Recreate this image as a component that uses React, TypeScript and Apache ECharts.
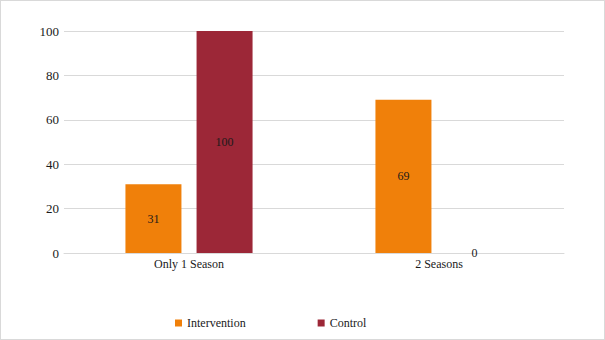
import React, { useEffect, useRef } from "react";
import * as echarts from "echarts";

const categories = ["Only 1 Season", "2 Seasons"];
const intervention = [31, 69];
const control = [100, 0];
const seriesNames = ["Intervention", "Control"];
const colors = ["#f0800a", "#9c2737"];

const FONT = "Liberation Serif";

export default function App() {
  const ref = useRef<HTMLDivElement>(null);
  useEffect(() => {
    document.body.style.margin = "0";
    const chart = echarts.init(ref.current!, null, { renderer: "svg" });
    const label = {
      show: true,
      position: "inside" as const,
      color: "#1a1a1a",
      fontFamily: FONT,
      fontSize: 12,
    };
    chart.setOption({
      animation: false,
      textStyle: { fontFamily: FONT },
      grid: { left: 63, right: 40, top: 30, bottom: 86, containLabel: false },
      legend: {
        data: seriesNames,
        left: 174,
        top: 316,
        padding: 0,
        icon: "rect",
        itemWidth: 7,
        itemHeight: 7,
        itemGap: 72,
        textStyle: { fontFamily: FONT, fontSize: 12, color: "#1a1a1a" },
      },
      xAxis: {
        type: "category",
        data: categories,
        axisLine: { show: true, lineStyle: { color: "#d9d9d9" } },
        axisTick: { show: false },
        axisLabel: { color: "#1a1a1a", fontFamily: FONT, fontSize: 12, margin: 5 },
      },
      yAxis: {
        type: "value",
        min: 0,
        max: 100,
        interval: 20,
        axisLine: { show: false },
        axisTick: { show: false },
        splitLine: { lineStyle: { color: "#d9d9d9" } },
        axisLabel: { color: "#1a1a1a", fontFamily: FONT, fontSize: 13, margin: 5 },
      },
      series: [
        {
          name: seriesNames[0],
          type: "bar",
          data: intervention,
          barWidth: 56,
          barGap: "27%",
          itemStyle: { color: colors[0] },
          label,
        },
        {
          name: seriesNames[1],
          type: "bar",
          data: control,
          barWidth: 56,
          barGap: "27%",
          itemStyle: { color: colors[1] },
          label,
        },
      ],
    });
    return () => chart.dispose();
  }, []);
  return (
    <div
      style={{
        position: "absolute",
        left: 0,
        top: 0,
        width: 605,
        height: 340,
        border: "1px solid #d9d9d9",
        boxSizing: "border-box",
        background: "#fff",
      }}
    >
      <div ref={ref} style={{ width: 603, height: 338 }} />
    </div>
  );
}
